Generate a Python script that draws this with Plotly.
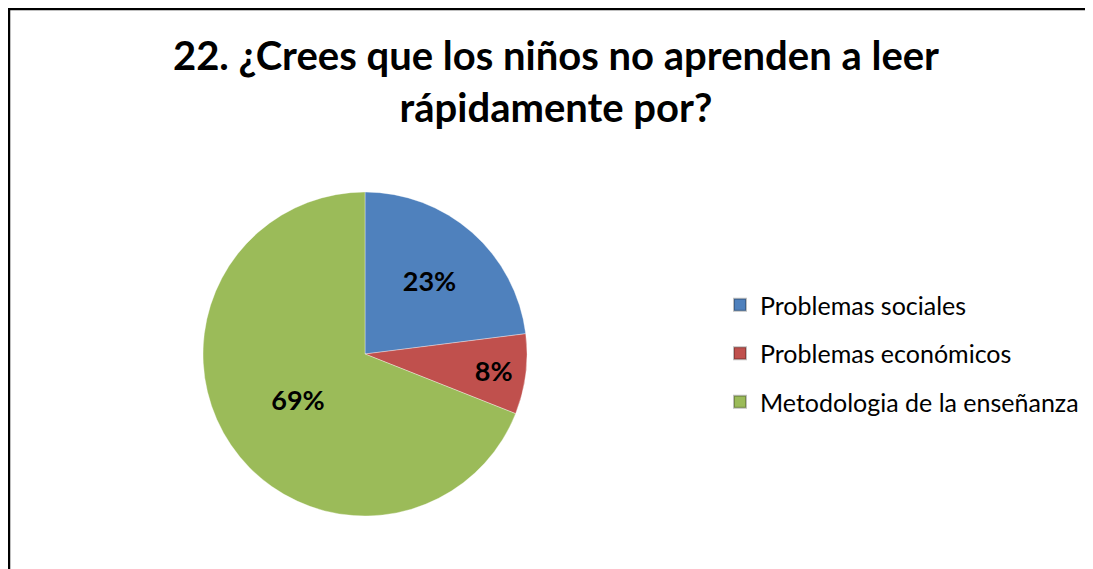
import plotly.graph_objects as go

categories = ["Problemas sociales", "Problemas económicos", "Metodologia de la enseñanza"]
values = [23, 8, 69]
colors = ["#4F81BD", "#C0504D", "#9BBB59"]
title_lines = ["22. ¿Crees que los niños no aprenden a leer", "rápidamente por?"]

W, H = 1093, 569

fig = go.Figure()

fig.add_trace(go.Pie(
    labels=categories,
    values=values,
    sort=False,
    direction="clockwise",
    rotation=0,
    marker=dict(colors=colors, line=dict(color="rgba(255,255,255,0.35)", width=1)),
    texttemplate="%{percent:.0%}",
    textposition="inside",
    insidetextorientation="horizontal",
    textfont=dict(family="Lato", size=27, color="black", weight="bold"),
    showlegend=False,
    hoverinfo="label+percent",
    domain=dict(x=[195 / W, 519 / W], y=[1 - 508 / H, 1 - 184 / H]),
))

# legend entries (one group each so the gap can match the reference spacing)
for name, col in zip(categories, colors):
    fig.add_trace(go.Scatter(
        x=[None], y=[None], mode="markers", name=name,
        marker=dict(symbol="square", size=12, color=col,
                    line=dict(color="rgba(0,0,0,0.25)", width=1)),
        legendgroup=name, showlegend=True,
    ))

fig.update_layout(
    width=W, height=H,
    margin=dict(l=0, r=0, t=0, b=0),
    paper_bgcolor="white",
    plot_bgcolor="white",
    xaxis=dict(visible=False),
    yaxis=dict(visible=False),
    title=dict(
        text="<b>" + "<br>".join(title_lines) + "</b>",
        x=548 / W, xanchor="center",
        y=1 - 62 / H, yanchor="top",
        font=dict(family="Lato", size=40, color="black"),
    ),
    legend=dict(
        x=712 / W, xanchor="left",
        y=1 - 274 / H, yanchor="top",
        font=dict(family="Lato", size=25, color="black"),
        tracegroupgap=13,
        itemsizing="constant",
        bgcolor="rgba(0,0,0,0)",
    ),
    shapes=[
        dict(type="line", xref="paper", yref="paper",
             x0=1 / W, x1=1 / W, y0=0, y1=1,
             line=dict(color="black", width=2.5)),
        dict(type="line", xref="paper", yref="paper",
             x0=0, x1=1, y0=1 - 1 / H, y1=1 - 1 / H,
             line=dict(color="black", width=2.5)),
    ],
)

fig.write_html("out.html")
